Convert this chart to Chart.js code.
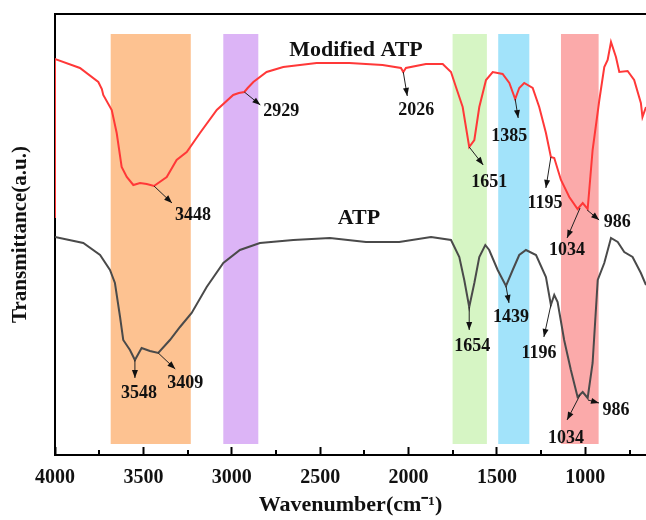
<!DOCTYPE html>
<html>
<head>
<meta charset="utf-8">
<script src="https://cdn.jsdelivr.net/npm/chart.js@4/dist/chart.umd.min.js"></script>
<style>
  html, body { margin: 0; padding: 0; background: #fff; }
  #wrap { width: 646px; height: 520px; }
</style>
</head>
<body>
<div id="wrap"><canvas id="ftir"></canvas></div>
<script>
// FTIR spectra, wavenumber (cm-1) vs transmittance (a.u.)
const modWn = [4000, 4000, 3859, 3755, 3735, 3727, 3679, 3651, 3623, 3594, 3557, 3519, 3481, 3440, 3368, 3312, 3255, 3180, 3085, 2992, 2960, 2929, 2910, 2878, 2803, 2709, 2520, 2445, 2335, 2147, 2043, 2030, 2015, 1902, 1807, 1760, 1732, 1694, 1657, 1628, 1600, 1562, 1524, 1468, 1430, 1397, 1374, 1346, 1298, 1261, 1223, 1195, 1176, 1138, 1091, 1044, 1015, 987, 959, 921, 893, 874, 855, 827, 808, 761, 724, 686, 677, 657];
const modT  = [239, 398, 389, 375, 368, 362, 347, 324, 290, 280, 272, 274, 273, 271, 280, 297, 305, 324, 347, 362, 364, 365, 369, 375, 385, 390, 394, 394, 394, 392, 389, 385, 389, 393, 393, 385, 370, 350, 310, 317, 350, 377, 385, 383, 374, 358, 369, 374, 369, 350, 324, 300, 299, 277, 260, 248, 254, 248, 307, 357, 390, 397, 415, 400, 385, 386, 377, 354, 340, 350];

const atpWn = [4000, 3840, 3745, 3689, 3661, 3632, 3614, 3576, 3548, 3510, 3463, 3416, 3350, 3293, 3227, 3142, 3048, 2954, 2841, 2652, 2445, 2241, 2053, 1873, 1760, 1713, 1685, 1657, 1628, 1600, 1566, 1544, 1496, 1449, 1411, 1374, 1336, 1279, 1223, 1195, 1176, 1157, 1120, 1082, 1044, 1015, 987, 959, 930, 893, 855, 817, 780, 733, 686, 657];
const atpT  = [220, 214, 202, 187, 174, 140, 117, 107, 97, 109, 106, 104, 117, 130, 144, 170, 194, 207, 214, 217, 219, 215, 215, 220, 217, 200, 177, 150, 174, 200, 212, 207, 187, 171, 187, 202, 207, 202, 180, 152, 162, 155, 117, 87, 60, 65, 59, 94, 177, 194, 219, 215, 205, 200, 184, 172];

// shaded regions
const bandFrom = [3685, 3048, 1751, 1493, 1138];
const bandTo   = [3232, 2850, 1557, 1317, 925];
const bandColors = ['#fdc291', '#dcb4f6', '#d6f5c4', '#a2e3fa', '#fbaaaa'];

// peak labels: text, anchor wavenumber, anchor transmittance
const peakText = ['3448', '2929', '2026', '1385', '1651', '1195', '1034', '986', '3548', '3409', '1654', '1439', '1196', '1034', '986'];
const peakWn   = [3440, 2929, 2030, 1397, 1657, 1195, 1030, 990, 3548, 3416, 1657, 1449, 1195, 1030, 985];
const peakT    = [271, 365, 385, 358, 310, 300, 249, 247, 97, 104, 150, 171, 152, 62, 57];
// arrow tip and text offsets (px) from the anchor
const tipOff   = [[18, 17], [16, 13], [4, 24], [3, 19], [14, 18], [-5, 31], [-13, 30], [12, 10], [0, 18], [17, 16], [0, 23], [3, 17], [-7, 32], [-13, 25], [11, 3]];
const textOff  = [[39, 29], [37, 19], [13, 38], [-6, 37], [20, 35], [-6, 46], [-13, 42], [30, 12], [4, 33], [27, 30], [3, 39], [5, 31], [-12, 48], [-14, 43], [28, 10]];

// series names
const seriesNames = ['Modified ATP', 'ATP'];
const nameWn = [2297, 2281];
const nameT  = [407, 239];

const majorTicks = [4000, 3500, 3000, 2500, 2000, 1500, 1000];
const minorTicks = [3750, 3250, 2750, 2250, 1750, 1250, 750];

const serif = '"Liberation Serif", "Times New Roman", serif';

function pts(xs, ys) {
  return xs.map((x, i) => ({ x: x, y: ys[i] }));
}

const decor = {
  id: 'decor',
  beforeDatasetsDraw(chart) {
    const { ctx, chartArea, scales } = chart;
    const x = scales.x, y = scales.y;
    ctx.save();
    // bands
    for (let i = 0; i < bandFrom.length; i++) {
      const x1 = x.getPixelForValue(bandFrom[i]);
      const x2 = x.getPixelForValue(bandTo[i]);
      const y1 = y.getPixelForValue(423);
      const y2 = y.getPixelForValue(13);
      ctx.fillStyle = bandColors[i];
      ctx.fillRect(x1, y1, x2 - x1, y2 - y1);
    }
    // top frame line
    ctx.strokeStyle = '#000';
    ctx.lineWidth = 2;
    ctx.beginPath();
    ctx.moveTo(chartArea.left - 1, chartArea.top);
    ctx.lineTo(chartArea.right, chartArea.top);
    ctx.stroke();
    // short minor ticks, pointing inward
    const b = chartArea.bottom;
    minorTicks.forEach(v => {
      const px = Math.round(x.getPixelForValue(v));
      ctx.fillStyle = '#000';
      ctx.fillRect(px - 1, b - 5, 2, 5);
    });
    ctx.restore();
  },
  afterDatasetsDraw(chart) {
    const { ctx, scales } = chart;
    const x = scales.x, y = scales.y;
    ctx.save();
    ctx.fillStyle = '#111';
    ctx.strokeStyle = '#222';
    ctx.textAlign = 'center';
    ctx.textBaseline = 'middle';
    for (let i = 0; i < peakText.length; i++) {
      const ax = x.getPixelForValue(peakWn[i]);
      const ay = y.getPixelForValue(peakT[i]);
      const tx = ax + tipOff[i][0], ty = ay + tipOff[i][1];
      const ang = Math.atan2(ty - ay, tx - ax);
      ctx.lineWidth = 1;
      ctx.beginPath(); ctx.moveTo(ax, ay); ctx.lineTo(tx, ty); ctx.stroke();
      ctx.beginPath();
      ctx.moveTo(tx, ty);
      ctx.lineTo(tx - 8 * Math.cos(ang) + 3 * Math.sin(ang), ty - 8 * Math.sin(ang) - 3 * Math.cos(ang));
      ctx.lineTo(tx - 8 * Math.cos(ang) - 3 * Math.sin(ang), ty - 8 * Math.sin(ang) + 3 * Math.cos(ang));
      ctx.closePath();
      ctx.fill();
      ctx.font = 'bold 18px ' + serif;
      ctx.fillText(peakText[i], ax + textOff[i][0], ay + textOff[i][1]);
    }
    ctx.font = 'bold 22px ' + serif;
    for (let i = 0; i < seriesNames.length; i++) {
      ctx.fillText(seriesNames[i], x.getPixelForValue(nameWn[i]), y.getPixelForValue(nameT[i]));
    }
    ctx.restore();
  }
};

new Chart(document.getElementById('ftir'), {
  type: 'line',
  data: {
    datasets: [
      { label: 'Modified ATP', data: pts(modWn, modT), borderColor: '#ff3838', borderWidth: 2, pointRadius: 0, tension: 0 },
      { label: 'ATP', data: pts(atpWn, atpT), borderColor: '#4a4a4a', borderWidth: 2, pointRadius: 0, tension: 0 }
    ]
  },
  options: {
    responsive: true,
    maintainAspectRatio: false,
    animation: false,
    layout: { padding: { top: 14, right: 0, left: 0, bottom: 0 } },
    plugins: { legend: { display: false }, tooltip: { enabled: false } },
    scales: {
      x: {
        type: 'linear',
        reverse: true,
        min: 657,
        max: 4000,
        afterBuildTicks: s => { s.ticks = majorTicks.map(v => ({ value: v })); },
        afterFit: s => { s.height = 65; },
        grid: {
          display: true,
          drawOnChartArea: false,
          drawTicks: true,
          tickLength: -8,
          tickWidth: 2,
          tickColor: '#000'
        },
        border: { display: true, color: '#000', width: 2 },
        ticks: {
          autoSkip: false,
          maxRotation: 0,
          padding: 19,
          color: '#111',
          callback: v => String(v),
          font: { family: serif, size: 20, weight: 'bold' }
        },
        title: {
          display: true,
          text: 'Wavenumber(cm\u207B\u00B9)',
          color: '#111',
          padding: { top: 0, bottom: 1 },
          font: { family: serif, size: 22, weight: 'bold' }
        }
      },
      y: {
        min: 2,
        max: 443,
        afterFit: s => { s.width = 55; },
        grid: { display: false, drawTicks: false },
        border: { display: true, color: '#000', width: 2 },
        ticks: { display: false },
        title: {
          display: true,
          text: 'Transmittance(a.u.)',
          color: '#111',
          padding: { top: 8, bottom: 0 },
          font: { family: serif, size: 21, weight: 'bold' }
        }
      }
    }
  },
  plugins: [decor]
});
</script>
</body>
</html>
